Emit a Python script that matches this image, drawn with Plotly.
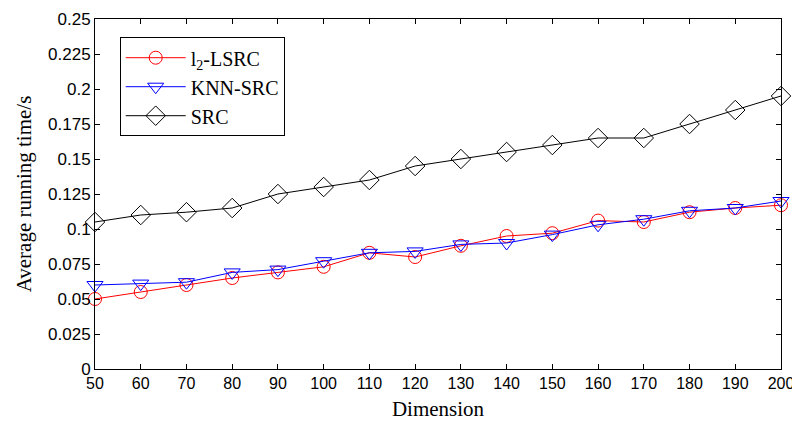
import plotly.graph_objects as go

dimension = [50, 60, 70, 80, 90, 100, 110, 120, 130, 140, 150, 160, 170, 180, 190, 200]
l2_lsrc = [0.050, 0.055, 0.060, 0.065, 0.069, 0.073, 0.083, 0.080, 0.088, 0.095, 0.097, 0.106, 0.105, 0.112, 0.115, 0.117]
knn_src = [0.060, 0.061, 0.062, 0.069, 0.071, 0.077, 0.083, 0.084, 0.089, 0.090, 0.096, 0.103, 0.107, 0.113, 0.115, 0.120]
src = [0.105, 0.110, 0.112, 0.115, 0.125, 0.130, 0.135, 0.145, 0.150, 0.155, 0.160, 0.165, 0.165, 0.175, 0.185, 0.195]

y_ticks = [0, 0.025, 0.05, 0.075, 0.1, 0.125, 0.15, 0.175, 0.2, 0.225, 0.25]
y_ticktext = ["0", "0.025", "0.05", "0.075", "0.1", "0.125", "0.15", "0.175", "0.2", "0.225", "0.25"]
x_ticks = list(range(50, 201, 10))

fig = go.Figure()
fig.add_trace(go.Scatter(x=dimension, y=l2_lsrc, mode="lines+markers", name="l<sub>2</sub>-LSRC",
                         line=dict(color="red", width=1),
                         marker=dict(symbol="circle-open", size=13, color="red", line=dict(width=1)),
                         cliponaxis=False))
fig.add_trace(go.Scatter(x=dimension, y=knn_src, mode="lines+markers", name="KNN-SRC",
                         line=dict(color="blue", width=1),
                         marker=dict(symbol="triangle-down-open", size=14, color="blue", line=dict(width=1)),
                         cliponaxis=False))
fig.add_trace(go.Scatter(x=dimension, y=src, mode="lines+markers", name="SRC",
                         line=dict(color="black", width=1),
                         marker=dict(symbol="diamond-open", size=15, color="black", line=dict(width=1)),
                         cliponaxis=False))

axis_common = dict(showgrid=False, zeroline=False, showline=True, linecolor="black", linewidth=1,
                   mirror="ticks", ticks="inside", ticklen=5, tickcolor="black", automargin=False)

fig.update_xaxes(range=[50, 200], tickvals=x_ticks,
                 tickfont=dict(family="Liberation Sans, Arial", size=16, color="black"),
                 title=dict(text="Dimension", font=dict(family="Liberation Serif, Times New Roman", size=21, color="black"), standoff=10),
                 **axis_common)
fig.update_yaxes(range=[0, 0.25], tickvals=y_ticks, ticktext=y_ticktext,
                 tickfont=dict(family="Liberation Sans, Arial", size=17, color="black"),
                 title=dict(text="Average running time/s", font=dict(family="Liberation Serif, Times New Roman", size=21, color="black"), standoff=10),
                 **axis_common)

# page body has an 8px default margin, so the figure is sized to end at the window edge
fig.update_layout(
    width=792, height=417,
    margin=dict(l=87, r=19, t=11, b=56),
    plot_bgcolor="white", paper_bgcolor="white",
    showlegend=True,
    legend=dict(x=0.036, y=0.948, xanchor="left", yanchor="top",
                bordercolor="black", borderwidth=1, bgcolor="white",
                font=dict(family="Liberation Serif, Times New Roman", size=20, color="black"),
                tracegroupgap=0, itemwidth=60),
)

fig.write_html("out.html")
